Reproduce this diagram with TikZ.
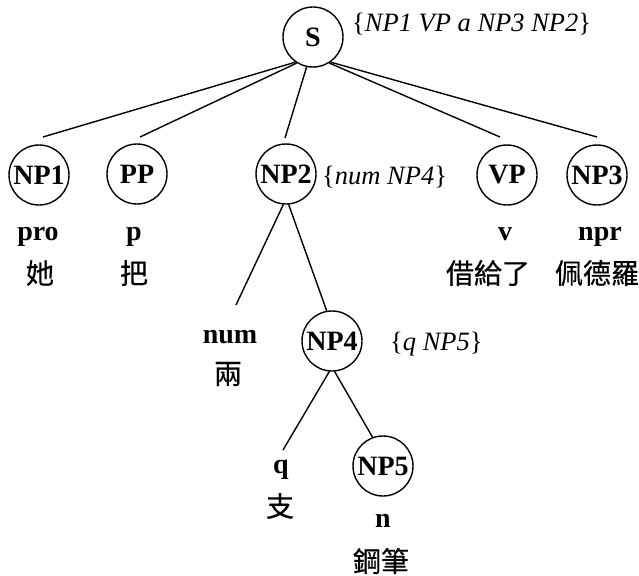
\documentclass[tikz,border=0pt]{standalone}
\usepackage{fontspec}
\setmainfont{Liberation Serif}
\newfontfamily\cjk[FakeBold=0.5]{Noto Sans CJK TC}
\begin{document}
\begin{tikzpicture}[x=1pt,y=-1pt,
  cat/.style={circle,draw,line width=1.4pt,minimum size=60pt,inner sep=0pt,
    font=\bfseries\fontsize{28}{32}\selectfont},
  poslabel/.style={anchor=base,inner sep=0pt,font=\bfseries\fontsize{28}{32}\selectfont},
  word/.style={inner sep=0pt,font=\cjk\fontsize{28}{32}\selectfont},
  ann/.style={anchor=base west,inner sep=0pt,font=\fontsize{26.5}{30}\selectfont},
  conn/.style={line width=1.4pt}]
\useasboundingbox (0,0) rectangle (639,575);
% category nodes
\node[cat] (S) at (313,37) {S};
\node[cat] (NP1) at (39,175) {NP1};
\node[cat] (PP) at (137,174) {PP};
\node[cat] (NP2) at (286,174) {NP2};
\node[cat] (VP) at (507,175) {VP};
\node[cat] (NP3) at (597,175) {NP3};
\node[cat] (NP4) at (332,341) {NP4};
\node[cat] (NP5) at (383,466) {NP5};
% annotations
\node[ann] (aS) at (352,32) {\{\textit{NP1 VP a NP3 NP2}\}};
\node[ann] (a2) at (322,184) {\{\textit{num NP4}\}};
\node[ann] (a4) at (390,350) {\{\textit{q NP5}\}};
% part-of-speech labels
\node[poslabel] (pro) at (38,240) {pro};
\node[poslabel] (p) at (134,240) {p};
\node[poslabel] (v) at (505,240) {v};
\node[poslabel] (npr) at (600,240) {npr};
\node[poslabel] (num) at (230,343) {num};
\node[poslabel] (q) at (281,473) {q};
\node[poslabel] (n) at (383,527) {n};
% words
\node[word] (w1) at (40,273) {她};
\node[word] (w2) at (134,273) {把};
\node[word] (w3) at (488,273) {借給了};
\node[word] (w4) at (597,273) {佩德羅};
\node[word] (w5) at (228,374) {兩};
\node[word] (w6) at (280,506) {支};
\node[word] (w7) at (381,561) {鋼筆};
% connector ends
\coordinate (e1) at (43,137);
\coordinate (e2) at (140,137);
\coordinate (e3) at (285,138);
\coordinate (e4) at (500,137);
\coordinate (e5) at (597,137);
\coordinate (e6) at (236,305);
\coordinate (e7) at (283,450);
% connectors
\draw[conn] (S.235) -- (e1);
\draw[conn] (S.238) -- (e2);
\draw[conn] (S.258) -- (e3);
\draw[conn] (S.302) -- (e4);
\draw[conn] (S.305) -- (e5);
\draw[conn] (NP2.265) -- (e6);
\draw[conn] (NP2.275) -- (NP4.100);
\draw[conn] (NP4.265) -- (e7);
\draw[conn] (NP4.275) -- (NP5.110);
\end{tikzpicture}
\end{document}
